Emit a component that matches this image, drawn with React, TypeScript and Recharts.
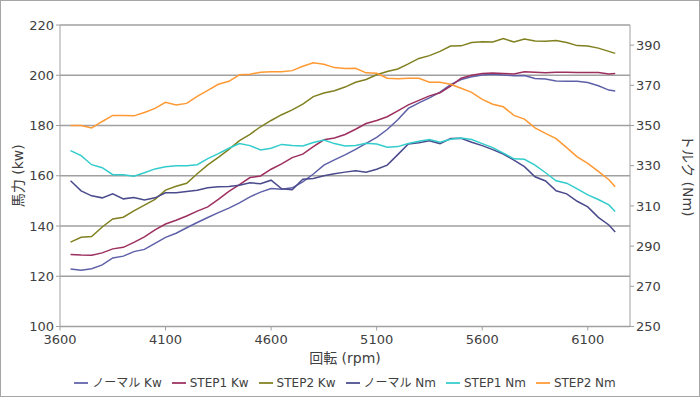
import React from "react";
import { LineChart, Line, XAxis, YAxis, CartesianGrid, Legend } from "recharts";

// engine speed samples (rpm)
const rpm = [
  3650, 3700, 3750, 3800, 3850, 3900, 3950, 4000, 4050, 4100,
  4150, 4200, 4250, 4300, 4350, 4400, 4450, 4500, 4550, 4600,
  4650, 4700, 4750, 4800, 4850, 4900, 4950, 5000, 5050, 5100,
  5150, 5200, 5250, 5300, 5350, 5400, 5450, 5500, 5550, 5600,
  5650, 5700, 5750, 5800, 5850, 5900, 5950, 6000, 6050, 6100,
  6150, 6200, 6230,
];

// power, kW (left axis)
const normalKw = [
  122.9, 122.4, 123.0, 124.5, 127.3, 128.0, 129.8, 130.7, 133.1, 135.5,
  137.1, 139.3, 141.4, 143.4, 145.3, 147.1, 149.2, 151.6, 153.5, 154.9,
  154.6, 155.2, 157.6, 160.7, 164.2, 166.3, 168.3, 170.5, 172.9, 175.3,
  178.4, 182.3, 186.8, 189.0, 191.0, 193.3, 196.3, 198.3, 199.4, 200.1,
  200.4, 200.1, 199.8, 199.9, 198.7, 198.5, 197.7, 197.6, 197.6, 197.1,
  195.8, 194.1, 193.7,
];
const step1Kw = [
  128.7, 128.5, 128.4, 129.3, 130.9, 131.5, 133.5, 135.7, 138.5, 140.8,
  142.3, 144.0, 145.9, 147.6, 150.6, 153.8, 156.5, 159.3, 159.9, 162.6,
  164.7, 167.2, 168.6, 171.6, 174.3, 175.0, 176.4, 178.5, 180.8, 182.0,
  183.5, 185.8, 188.2, 190.0, 191.8, 193.0, 195.7, 198.8, 200.0, 200.7,
  200.9, 200.7, 200.5, 201.4, 201.2, 201.0, 201.2, 201.2, 201.1, 201.1,
  201.1, 200.5, 200.7,
];
const step2Kw = [
  133.6, 135.5, 135.8, 139.6, 142.8, 143.5, 146.0, 148.3, 150.6, 154.3,
  155.8, 157.0, 160.8, 164.3, 167.3, 170.5, 174.0, 176.5, 179.5, 182.0,
  184.3, 186.2, 188.5, 191.5, 192.9, 193.8, 195.3, 197.2, 198.3, 200.2,
  201.5, 202.5, 204.5, 206.7, 207.8, 209.5, 211.6, 211.7, 213.0, 213.3,
  213.2, 214.6, 213.2, 214.4, 213.6, 213.5, 213.8, 213.0, 211.8, 211.6,
  210.8, 209.5, 208.7,
];

// torque, Nm (right axis)
const normalNm = [
  322.5, 317.5, 315.0, 314.0, 316.0, 313.5, 314.2, 313.0, 314.0, 316.5,
  316.5, 317.2, 317.8, 319.0, 319.5, 319.6, 320.3, 321.5, 321.0, 322.8,
  318.5, 318.0, 323.3, 323.6, 325.0, 326.0, 326.8, 327.5, 326.8, 328.2,
  330.3, 335.5, 340.8, 341.4, 342.4, 341.0, 343.5, 343.6, 341.7, 340.0,
  338.0, 335.8, 332.8, 329.5, 324.5, 322.4, 317.5, 316.0, 312.3, 309.5,
  304.3, 300.5, 297.0,
];
const step1Nm = [
  337.5, 335.0, 330.5, 329.0, 325.5, 325.5, 324.8, 326.5, 328.4, 329.5,
  330.0, 330.0, 330.5, 333.5, 336.0, 338.7, 341.0, 340.0, 337.8, 338.7,
  340.6, 340.0, 339.8, 341.5, 342.8, 341.0, 339.8, 340.0, 341.2, 340.8,
  339.2, 339.5, 341.0, 342.2, 343.0, 341.7, 343.2, 343.8, 343.0, 341.0,
  339.0, 336.3, 333.4, 333.2, 330.3, 326.5, 322.5, 321.3, 318.5, 315.5,
  313.2, 310.5, 307.2,
];
const step2Nm = [
  350.0, 350.0, 348.8, 352.0, 355.0, 355.0, 354.8, 356.5, 358.5, 361.5,
  360.2, 361.0, 364.5, 367.5, 370.5, 372.0, 375.2, 375.5, 376.5, 376.7,
  376.8, 377.3, 379.5, 381.2, 380.5, 378.8, 378.3, 378.5, 376.2, 376.0,
  373.5, 373.3, 373.5, 373.5, 371.5, 371.5, 370.5, 368.5, 366.5, 363.0,
  360.6, 359.3, 355.0, 353.2, 348.8, 346.1, 343.5, 339.0, 334.4, 331.2,
  327.2, 323.0, 319.5,
];

const xTicks = [3600, 4100, 4600, 5100, 5600, 6100];
const kwTicks = [100, 120, 140, 160, 180, 200, 220];
const nmTicks = [250, 270, 290, 310, 330, 350, 370, 390];
const legendOrder = ["ノーマル Kw", "STEP1 Kw", "STEP2 Kw", "ノーマル Nm", "STEP1 Nm", "STEP2 Nm"];

const data = rpm.map((r, i) => ({
  rpm: r,
  normalKw: normalKw[i],
  step1Kw: step1Kw[i],
  step2Kw: step2Kw[i],
  normalNm: normalNm[i],
  step1Nm: step1Nm[i],
  step2Nm: step2Nm[i],
}));

const FONT = "'DejaVu Sans', 'Noto Sans CJK JP', sans-serif";
const AXIS = "#a0a0a0";
const TEXT = "#404040";

export default function App() {
  return (
    <div style={{ position: "fixed", left: 0, top: 0, width: 700, height: 397, background: "#fff", fontFamily: FONT }}>
      <LineChart width={700} height={397} data={data} margin={{ top: 25, right: 0, bottom: 7, left: 0 }}>
        <CartesianGrid yAxisId="left" vertical={false} stroke={AXIS} strokeWidth={1.5} />
        <XAxis
          dataKey="rpm"
          type="number"
          domain={[3600, 6300]}
          ticks={xTicks}
          height={46}
          stroke={AXIS}
          tickSize={4}
          tickMargin={4}
          tick={{ fill: TEXT, fontSize: 13, fontFamily: FONT }}
          label={{ value: "回転 (rpm)", position: "insideBottom", offset: 10, fill: TEXT, fontSize: 14, fontFamily: FONT }}
        />
        <YAxis
          yAxisId="left"
          width={60}
          domain={[100, 220]}
          ticks={kwTicks}
          stroke={AXIS}
          tickSize={4}
          tick={{ fill: TEXT, fontSize: 13, fontFamily: FONT }}
          label={{ value: "馬力 (kw)", angle: -90, position: "insideLeft", offset: 18, fill: TEXT, fontSize: 14, fontFamily: FONT, style: { textAnchor: "middle" } }}
        />
        <YAxis
          yAxisId="right"
          orientation="right"
          width={70}
          domain={[250, 400]}
          ticks={nmTicks}
          stroke={AXIS}
          tickSize={4}
          tick={{ fill: TEXT, fontSize: 13, fontFamily: FONT }}
          label={{ value: "トルク (Nm)", angle: 90, position: "insideRight", offset: 12, fill: TEXT, fontSize: 14, fontFamily: FONT, style: { textAnchor: "middle" } }}
        />
        <Legend
          verticalAlign="bottom"
          iconType="plainline"
          iconSize={14}
          itemSorter={(item: any) => legendOrder.indexOf(item.value)}
          wrapperStyle={{ fontSize: 12, fontFamily: FONT, color: TEXT }}
          formatter={(v) => <span style={{ color: TEXT }}>{v}</span>}
        />
        <Line yAxisId="left" type="linear" dataKey="normalKw" name="ノーマル Kw" stroke="#5E60A8" strokeWidth={1.5} dot={false} isAnimationActive={false} />
        <Line yAxisId="left" type="linear" dataKey="step1Kw" name="STEP1 Kw" stroke="#9C2F5E" strokeWidth={1.5} dot={false} isAnimationActive={false} />
        <Line yAxisId="left" type="linear" dataKey="step2Kw" name="STEP2 Kw" stroke="#808020" strokeWidth={1.5} dot={false} isAnimationActive={false} />
        <Line yAxisId="right" type="linear" dataKey="normalNm" name="ノーマル Nm" stroke="#4A4A8C" strokeWidth={1.5} dot={false} isAnimationActive={false} />
        <Line yAxisId="right" type="linear" dataKey="step1Nm" name="STEP1 Nm" stroke="#33CCCC" strokeWidth={1.5} dot={false} isAnimationActive={false} />
        <Line yAxisId="right" type="linear" dataKey="step2Nm" name="STEP2 Nm" stroke="#FF9933" strokeWidth={1.5} dot={false} isAnimationActive={false} />
      </LineChart>
      <div style={{ position: "absolute", left: 0, top: 0, width: 700, height: 397, boxSizing: "border-box", border: "1px solid #a6a6a6", pointerEvents: "none" }} />
    </div>
  );
}
